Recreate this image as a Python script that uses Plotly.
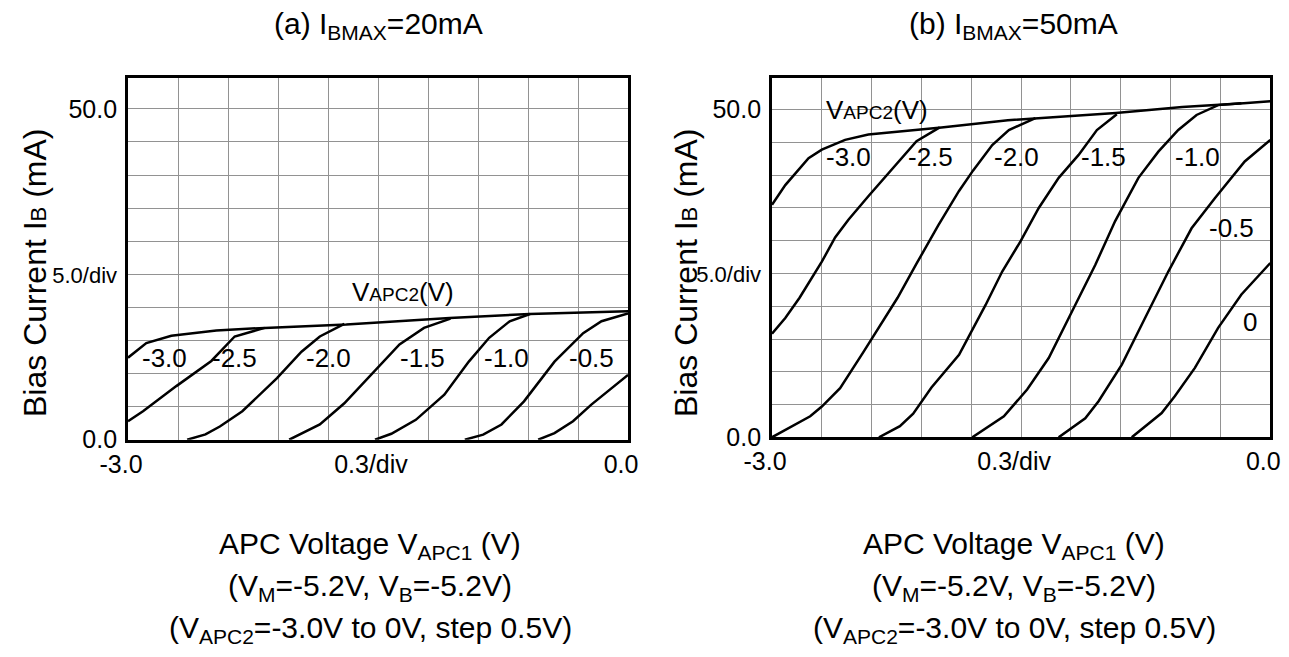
import plotly.graph_objects as go

# ---------------- data ----------------
x_tick_vals = [-3.0, -2.7, -2.4, -2.1, -1.8, -1.5, -1.2, -0.9, -0.6, -0.3, 0.0]
x_tick_text = ["-3.0", "", "", "", "", "0.3/div", "", "", "", "", "0.0"]
y_tick_vals = [0, 5, 10, 15, 20, 25, 30, 35, 40, 45, 50]
y_tick_text = ["0.0", "", "", "", "", '<span style="font-size:22px">5.0/div</span>', "", "", "", "", "50.0"]

curve_labels = ["-3.0", "-2.5", "-2.0", "-1.5", "-1.0", "-0.5", "0"]

# (a) IBMAX = 20 mA  : V_APC1 (V) vs bias current (mA)
a_m30_x = [-3.0, -2.89, -2.74, -2.47, -2.18, -1.69, -1.07, -0.59, 0.0]
a_m30_y = [12.4, 14.6, 15.7, 16.5, 16.9, 17.4, 18.4, 19.0, 19.4]
a_m25_x = [-3.0, -2.91, -2.71, -2.50, -2.36, -2.18]
a_m25_y = [2.8, 4.3, 8.1, 11.9, 15.6, 16.9]
a_m20_x = [-2.645, -2.535, -2.449, -2.314, -2.106, -1.959, -1.849, -1.702]
a_m20_y = [0.0, 0.8, 2.0, 4.3, 9.3, 13.3, 15.6, 17.5]
a_m15_x = [-2.033, -1.971, -1.849, -1.702, -1.506, -1.371, -1.224, -1.065]
a_m15_y = [0.0, 0.8, 2.3, 5.5, 10.8, 14.4, 16.9, 18.3]
a_m10_x = [-1.518, -1.42, -1.273, -1.102, -0.955, -0.833, -0.71, -0.588]
a_m10_y = [0.0, 0.9, 3.0, 6.8, 11.8, 15.4, 17.9, 19.0]
a_m05_x = [-0.979, -0.869, -0.759, -0.624, -0.441, -0.269, -0.159, 0.0]
a_m05_y = [0.0, 0.76, 2.3, 5.8, 11.8, 16.1, 17.9, 19.1]
a_0_x = [-0.539, -0.441, -0.33, -0.22, 0.0]
a_0_y = [0.0, 1.0, 2.8, 5.3, 9.8]

# (b) IBMAX = 50 mA
b_m30_x = [-3.0, -2.92, -2.78, -2.70, -2.56, -2.42, -1.98, -1.58, -0.93, -0.53, -0.16, 0.0]
b_m30_y = [35.5, 38.5, 42.6, 43.9, 45.4, 46.2, 47.3, 48.4, 49.5, 50.4, 51.0, 51.3]
b_m25_x = [-3.0, -2.92, -2.834, -2.74, -2.70, -2.62, -2.54, -2.42, -2.26, -2.13, -1.99]
b_m25_y = [15.8, 18.2, 21.3, 25.2, 26.8, 30.5, 33.2, 36.8, 41.4, 45.2, 47.3]
b_m20_x = [-3.0, -2.77, -2.70, -2.59, -2.45, -2.34, -2.244, -2.13, -2.00, -1.874, -1.79, -1.674, -1.574, -1.414]
b_m20_y = [0.0, 3.2, 4.7, 7.5, 13.0, 17.5, 21.3, 26.5, 32.3, 37.6, 40.7, 44.6, 46.9, 48.7]
b_m15_x = [-2.356, -2.23, -2.15, -2.04, -1.874, -1.714, -1.614, -1.504, -1.394, -1.274, -1.154, -1.044, -0.924]
b_m15_y = [0.0, 1.7, 3.6, 7.6, 12.6, 20.2, 25.3, 29.9, 35.0, 39.6, 43.1, 46.9, 49.3]
b_m10_x = [-1.794, -1.604, -1.464, -1.334, -1.194, -1.054, -0.934, -0.794, -0.674, -0.554, -0.444, -0.314, -0.174]
b_m10_y = [0.0, 3.2, 7.3, 12.1, 19.2, 26.3, 33.0, 39.6, 43.6, 46.9, 49.2, 50.7, 51.0]
b_m05_x = [-1.274, -1.114, -1.034, -0.894, -0.754, -0.614, -0.474, -0.334, -0.154, 0.0]
b_m05_y = [0.0, 2.9, 5.5, 11.1, 18.2, 25.3, 31.9, 36.5, 42.1, 45.4]
b_0_x = [-0.834, -0.654, -0.574, -0.454, -0.314, -0.174, 0.0]
b_0_y = [0.0, 3.7, 6.3, 10.6, 16.7, 21.8, 26.6]

# label anchor positions (data coords) for curve labels
a_label_x = [-2.784, -2.361, -1.80, -1.233, -0.732, -0.222]
a_label_y = [12.35, 12.35, 12.35, 12.35, 12.35, 12.35]
b_label_x = [-2.54, -2.044, -1.529, -1.004, -0.44, -0.236, -0.124]
b_label_y = [42.8, 42.8, 42.8, 42.8, 42.8, 31.9, 17.6]

# ---------------- figure ----------------
W, H = 1289, 657
FONT = "Liberation Sans, Arial, Helvetica, sans-serif"

a_curves = [(a_m30_x, a_m30_y), (a_m25_x, a_m25_y), (a_m20_x, a_m20_y), (a_m15_x, a_m15_y),
            (a_m10_x, a_m10_y), (a_m05_x, a_m05_y), (a_0_x, a_0_y)]
b_curves = [(b_m30_x, b_m30_y), (b_m25_x, b_m25_y), (b_m20_x, b_m20_y), (b_m15_x, b_m15_y),
            (b_m10_x, b_m10_y), (b_m05_x, b_m05_y), (b_0_x, b_0_y)]

fig = go.Figure()
for name, (xs, ys) in zip(curve_labels, a_curves):
    fig.add_trace(go.Scatter(x=xs, y=ys, mode="lines", name=name, xaxis="x", yaxis="y",
                             line=dict(color="black", width=2.5), showlegend=False, hoverinfo="skip"))
for name, (xs, ys) in zip(curve_labels, b_curves):
    fig.add_trace(go.Scatter(x=xs, y=ys, mode="lines", name=name, xaxis="x2", yaxis="y2",
                             line=dict(color="black", width=2.5), showlegend=False, hoverinfo="skip"))


def px_x(p):
    return p / W


def px_y(p):
    return 1 - p / H


xa_common = dict(range=[-3.0, 0.0], tickmode="array", tickvals=x_tick_vals, ticktext=x_tick_text,
                 showgrid=True, gridcolor="#929292", gridwidth=1, zeroline=False,
                 showline=True, mirror=True, linecolor="black", linewidth=2.8,
                 ticks="", tickfont=dict(size=25, color="black", family=FONT),
                 ticklabelstandoff=0, ticklabelshift=-7, fixedrange=True, automargin=False)
ya_common = dict(tickmode="array", tickvals=y_tick_vals, ticktext=y_tick_text,
                 showgrid=True, gridcolor="#929292", gridwidth=1, zeroline=False,
                 showline=True, mirror=True, linecolor="black", linewidth=2.8,
                 ticks="", tickfont=dict(size=25, color="black", family=FONT),
                 ticklabelstandoff=3, fixedrange=True, automargin=False)

fig.update_layout(
    width=W, height=H,
    margin=dict(l=0, r=0, t=0, b=0, pad=0, autoexpand=False),
    paper_bgcolor="white", plot_bgcolor="white",
    font=dict(family=FONT, color="black"),
    showlegend=False,
    xaxis=dict(domain=[px_x(120), px_x(620)], anchor="y", **xa_common),
    yaxis=dict(domain=[px_y(431.7), px_y(70)], anchor="x", range=[0, 54.67], **ya_common),
    xaxis2=dict(domain=[px_x(764), px_x(1262.3)], anchor="y2", **xa_common),
    yaxis2=dict(domain=[px_y(429.3), px_y(70)], anchor="x2", range=[0, 54.84], **ya_common),
)

ann = []
# titles
ann.append(dict(text="(a) I<sub>BMAX</sub>=20mA", x=px_x(370), y=px_y(17), xref="paper", yref="paper",
                showarrow=False, font=dict(size=30), xanchor="center", yanchor="middle"))
ann.append(dict(text="(b) I<sub>BMAX</sub>=50mA", x=px_x(1005), y=px_y(17), xref="paper", yref="paper",
                showarrow=False, font=dict(size=30), xanchor="center", yanchor="middle"))
# y titles
ytitle = 'Bias Current I<span style="font-size:22px">B</span> (mA)'
for xc in (27, 678):
    ann.append(dict(text=ytitle, x=px_x(xc), y=px_y(265), xref="paper", yref="paper", textangle=-90,
                    showarrow=False, font=dict(size=32), xanchor="center", yanchor="middle"))
# bottom texts
bottom_lines = ["APC Voltage V<sub>APC1</sub> (V)",
                "(V<sub>M</sub>=-5.2V, V<sub>B</sub>=-5.2V)",
                "(V<sub>APC2</sub>=-3.0V to 0V, step 0.5V)"]
bottom_y = [537, 579, 621]
for xc in (362, 1006):
    for t, yc in zip(bottom_lines, bottom_y):
        ann.append(dict(text=t, x=px_x(xc), y=px_y(yc), xref="paper", yref="paper",
                        showarrow=False, font=dict(size=30), xanchor="center", yanchor="middle"))
# VAPC2(V) headers
vlab = 'V<span style="font-size:19px">APC2</span>(V)'
ann.append(dict(text=vlab, x=-1.35, y=22.3, xref="x", yref="y", showarrow=False,
                font=dict(size=26), xanchor="center", yanchor="middle"))
ann.append(dict(text=vlab, x=-2.369, y=49.95, xref="x2", yref="y2", showarrow=False,
                font=dict(size=26), xanchor="center", yanchor="middle"))
# curve labels
for t, lx, ly in zip(curve_labels[:6], a_label_x, a_label_y):
    ann.append(dict(text=t, x=lx, y=ly, xref="x", yref="y", showarrow=False,
                    font=dict(size=26), xanchor="center", yanchor="middle"))
for t, lx, ly in zip(curve_labels, b_label_x, b_label_y):
    ann.append(dict(text=t, x=lx, y=ly, xref="x2", yref="y2", showarrow=False,
                    font=dict(size=26), xanchor="center", yanchor="middle"))

fig.update_layout(annotations=ann)
fig.write_html("out.html")
